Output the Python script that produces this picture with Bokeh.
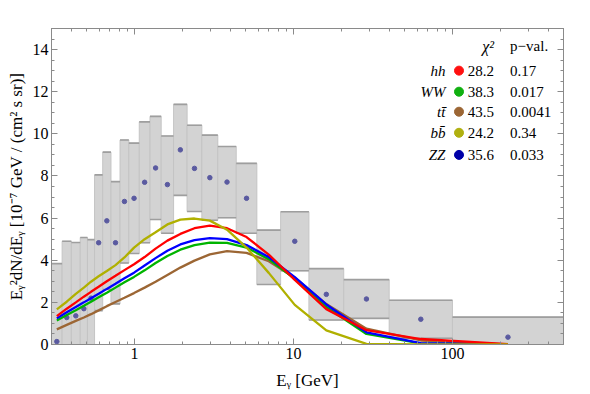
import numpy as np
from bokeh.plotting import figure
from bokeh.models import LogAxis, LinearAxis, FixedTicker, Range1d, ColumnDataSource
from bokeh.core.properties import value
from bokeh.embed import file_html
from bokeh.resources import INLINE

# ---- data ----
bin_edges = [0.30, 0.35, 0.40, 0.455, 0.505, 0.56, 0.63, 0.71, 0.81, 0.92, 1.07, 1.25,
             1.47, 1.76, 2.14, 2.65, 3.34, 4.36, 5.88, 8.3, 12.5, 20.7, 40.0, 100.0, 500.0]
flux = [0.14, 1.28, 1.36, 1.70, 2.20, 4.83, 5.87, 4.83, 6.79, 6.94, 7.70, 8.38,
        7.59, 9.24, 8.36, 7.92, 7.71, 6.94, 4.14, 4.90, 2.38, 2.16, 1.20, 0.35]
flux_err = [3.70, 3.62, 3.48, 3.38, 2.78, 3.22, 3.26, 2.90, 2.92, 2.62, 2.87, 2.45,
            2.31, 2.16, 2.05, 2.02, 1.69, 1.66, 1.29, 1.40, 1.22, 0.92, 0.90, 0.95]

model_hh = [1.35, 1.70, 2.00, 2.27, 2.50, 2.74, 3.00, 3.26, 3.53, 3.81, 4.15, 4.55,
            4.93, 5.25, 5.52, 5.64, 5.52, 5.10, 4.27, 3.07, 1.68, 0.68, 0.26, 0.02]
model_WW = [1.14, 1.40, 1.63, 1.84, 2.03, 2.24, 2.46, 2.70, 2.95, 3.21, 3.52, 3.87,
            4.20, 4.50, 4.72, 4.84, 4.82, 4.60, 4.05, 3.12, 1.78, 0.50, 0.05, 0.00]
model_tt = [0.72, 0.93, 1.12, 1.28, 1.44, 1.62, 1.82, 2.02, 2.22, 2.44, 2.70, 2.98,
            3.30, 3.65, 3.98, 4.28, 4.43, 4.35, 3.95, 3.17, 1.92, 0.75, 0.19, 0.01]
model_bb = [1.67, 2.03, 2.40, 2.70, 2.98, 3.24, 3.49, 3.77, 4.13, 4.60, 5.00, 5.33,
            5.70, 5.93, 5.98, 5.88, 5.45, 4.60, 3.40, 1.88, 0.67, 0.03, 0.00, 0.00]
model_ZZ = [1.24, 1.53, 1.78, 2.00, 2.20, 2.41, 2.64, 2.88, 3.14, 3.41, 3.75, 4.10,
            4.45, 4.75, 4.95, 5.05, 5.00, 4.72, 4.15, 3.20, 1.90, 0.58, 0.06, 0.00]

channel_names = ["hh", "WW", "tt\u0304", "bb\u0304", "ZZ"]
chi2_values = ["28.2", "38.3", "43.5", "24.2", "35.6"]
p_values = ["0.17", "0.017", "0.0041", "0.34", "0.033"]
channel_colors = ["#ff0000", "#00b400", "#9c6634", "#b0b000", "#0000ff"]
legend_dot_colors = ["#ff1010", "#10b010", "#9c6634", "#b0b010", "#0000a8"]

x_major = [1, 10, 100]
x_major_labels = ["1", "10", "100"]
x_minor = [0.3, 0.4, 0.5, 0.6, 0.7, 0.8, 0.9, 2, 3, 4, 5, 6, 7, 8, 9,
           20, 30, 40, 50, 60, 70, 80, 90, 200, 300, 400, 500]
y_major = [0, 2, 4, 6, 8, 10, 12, 14]
y_minor = [i * 0.5 for i in range(0, 31)]

# ---- derived ----
edges = np.array(bin_edges)
left = edges[:-1]
right = edges[1:]
centers = np.sqrt(left * right)
f = np.array(flux)
e = np.array(flux_err)
upper = f + e
lower = np.clip(f - e, 0, None)

SERIF = "'Liberation Serif', 'Times New Roman', serif"
FRAME = "#8a8a8a"

p = figure(frame_width=512, frame_height=316, x_axis_type="log",
           x_range=Range1d(0.3, 500), y_range=Range1d(0, 15),
           output_backend="svg", toolbar_location=None,
           min_border_left=51, min_border_right=9,
           min_border_top=28, min_border_bottom=48)
p.grid.visible = False
p.outline_line_color = FRAME
p.background_fill_color = "white"
p.border_fill_color = "white"

# boxes
p.quad(left=left, right=right, bottom=lower, top=upper,
       fill_color="#d3d3d3", line_color="#c4c4c4", line_width=1)
p.segment(x0=left, x1=right, y0=upper, y1=upper, line_color="#9e9e9e", line_width=1.6)
m = lower > 0
p.segment(x0=left[m], x1=right[m], y0=lower[m], y1=lower[m], line_color="#9e9e9e", line_width=1.6)

# points
p.scatter(x=centers, y=f, size=4.5, color="#5a5aa0")

# model lines
models = [model_hh, model_WW, model_tt, model_bb, model_ZZ]
draw_order = [2, 1, 4, 0, 3]
for i in draw_order:
    p.line(centers, models[i], line_color=channel_colors[i], line_width=2.3)

# legend
row_y = [13.0, 12.0, 11.05, 10.05, 9.0]
src = ColumnDataSource(dict(name=channel_names, chi=chi2_values, pv=p_values,
                            y=row_y, col=legend_dot_colors,
                            xl=[90.4] * 5, xd=[110] * 5, xc=[124.8] * 5, xp=[230.7] * 5))
p.text(x="xl", y="y", text="name", source=src, text_font=value(SERIF),
       text_font_style="italic", text_font_size="15px", text_align="right",
       text_baseline="middle", text_color="black")
p.scatter(x="xd", y="y", color="col", size=9, source=src)
p.text(x="xc", y="y", text="chi", source=src, text_font=value(SERIF),
       text_font_size="15px", text_align="left", text_baseline="middle", text_color="black")
p.text(x="xp", y="y", text="pv", source=src, text_font=value(SERIF),
       text_font_size="15px", text_align="left", text_baseline="middle", text_color="black")
p.text(x=[168], y=[14.15], text=["\u03c7\u00b2"], text_font=value(SERIF),
       text_font_style="italic", text_font_size="16px", text_align="center",
       text_baseline="middle", text_color="black")
p.text(x=[230.7], y=[14.15], text=["p\u2212val."], text_font=value(SERIF),
       text_font_size="15px", text_align="left", text_baseline="middle", text_color="black")

# axes
def style_axis(ax):
    ax.axis_line_color = FRAME
    ax.major_tick_line_color = FRAME
    ax.minor_tick_line_color = FRAME
    ax.major_tick_in = 6
    ax.major_tick_out = 0
    ax.minor_tick_in = 3
    ax.minor_tick_out = 0
    ax.major_label_text_font = SERIF
    ax.major_label_text_font_size = "16px"
    ax.major_label_text_color = "black"
    ax.major_label_standoff = 3
    ax.axis_label_text_font = SERIF
    ax.axis_label_text_font_size = "17px"
    ax.axis_label_text_font_style = "normal"
    ax.axis_label_text_color = "black"

p.xaxis.ticker = FixedTicker(ticks=x_major, minor_ticks=x_minor)
p.yaxis.ticker = FixedTicker(ticks=y_major, minor_ticks=y_minor)
for ax in p.xaxis + p.yaxis:
    style_axis(ax)
p.xaxis.major_label_overrides = dict(zip(x_major, x_major_labels))
p.xaxis.axis_label = "E\u1d67 [GeV]"
p.xaxis.axis_label_standoff = 9
p.yaxis.axis_label = "E\u1d67\u00b2dN/dE\u1d67 [10\u207b\u2077 GeV / (cm\u00b2 s sr)]"
p.yaxis.axis_label_standoff = 4

top = LogAxis(ticker=FixedTicker(ticks=x_major, minor_ticks=x_minor),
              major_label_overrides={t: "" for t in x_major})
style_axis(top)
top.major_label_standoff = 0
p.add_layout(top, "above")
rgt = LinearAxis(ticker=FixedTicker(ticks=y_major, minor_ticks=y_minor),
                 major_label_overrides={t: "" for t in y_major})
style_axis(rgt)
rgt.major_label_standoff = 0
p.add_layout(rgt, "right")

open("out.html", "w").write(file_html(p, INLINE))
